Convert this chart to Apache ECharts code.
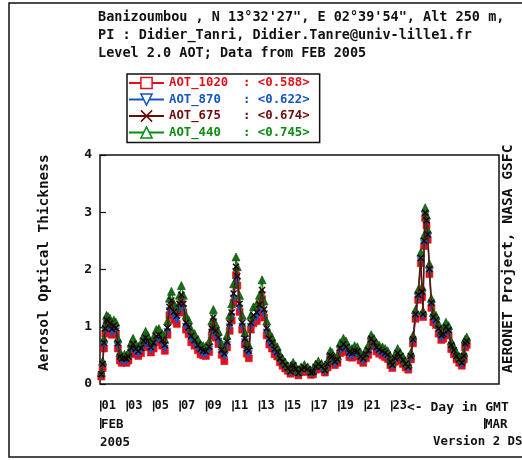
<!DOCTYPE html>
<html><head><meta charset="utf-8">
<script src="https://cdn.jsdelivr.net/npm/echarts@6/dist/echarts.min.js"></script>
<style>html,body{margin:0;padding:0;background:#fff}#c{width:522px;height:460px}</style>
</head><body><div id="c"></div>
<script>
// Day of month (Feb 2005, 1 = Feb 1 00:00 GMT)
var days = [1.10,1.20,1.30,1.40,1.50,1.60,1.75,1.90,2.05,2.20,2.35,2.50,2.65,2.85,3.00,3.15,3.35,3.50,3.70,3.90,
4.10,4.30,4.45,4.60,4.85,5.05,5.25,5.45,5.70,5.90,6.10,6.25,6.40,6.60,6.80,7.00,7.15,7.30,7.50,7.70,7.90,8.15,
8.40,8.60,8.80,9.00,9.25,9.45,9.57,9.75,9.95,10.20,10.40,10.60,10.80,10.95,11.10,11.28,11.38,11.55,11.75,11.95,
12.10,12.25,12.40,12.60,12.85,13.05,13.25,13.40,13.60,13.80,14.00,14.20,14.40,14.60,14.80,15.00,15.20,15.40,
15.60,15.80,16.00,16.20,16.45,16.70,16.95,17.10,17.30,17.50,17.75,18.00,18.20,18.40,18.55,18.75,18.95,19.15,
19.40,19.60,19.85,20.05,20.25,20.45,20.70,20.90,21.10,21.28,21.50,21.70,21.90,22.10,22.35,22.55,22.75,22.95,
23.10,23.30,23.50,23.70,23.90,24.10,24.30,24.50,24.66,24.85,25.05,25.25,25.35,25.42,25.50,25.58,25.68,25.77,
25.90,26.05,26.20,26.40,26.60,26.80,26.95,27.15,27.35,27.55,27.75,27.95,28.15,28.35,28.50,28.60,28.72];

var aot440 = [0.20,0.40,0.80,1.05,1.20,1.18,1.15,1.05,1.12,1.08,0.80,0.55,0.50,0.52,0.50,0.55,0.72,0.80,0.70,0.66,
0.72,0.85,0.92,0.85,0.73,0.82,0.95,0.97,0.88,0.78,1.10,1.50,1.62,1.40,1.33,1.55,1.72,1.55,1.20,1.12,0.95,0.88,
0.78,0.70,0.67,0.66,0.75,1.10,1.30,1.05,0.92,0.70,0.62,0.85,1.20,1.40,1.75,2.22,2.05,1.55,1.20,0.90,
0.72,0.68,1.20,1.35,1.40,1.55,1.82,1.45,1.10,0.90,0.82,0.70,0.65,0.52,0.45,0.38,0.32,0.26,
0.38,0.30,0.22,0.30,0.34,0.30,0.23,0.24,0.35,0.40,0.36,0.28,0.40,0.58,0.55,0.45,0.50,0.72,
0.80,0.75,0.63,0.62,0.67,0.65,0.55,0.50,0.60,0.68,0.86,0.80,0.72,0.68,0.65,0.62,0.58,0.45,
0.38,0.52,0.62,0.55,0.48,0.40,0.35,0.55,0.85,1.30,1.65,2.30,1.70,1.28,2.60,3.08,2.95,2.70,
2.10,1.50,1.25,1.20,1.05,0.92,0.95,1.08,1.02,0.75,0.65,0.55,0.48,0.42,0.55,0.78,0.82];

var aot675 = [0.17,0.35,0.72,0.97,1.12,1.10,1.06,0.96,1.02,0.98,0.71,0.48,0.44,0.45,0.44,0.48,0.63,0.70,0.61,0.57,
0.63,0.75,0.81,0.75,0.64,0.72,0.84,0.86,0.77,0.68,0.98,1.35,1.46,1.26,1.19,1.40,1.56,1.40,1.07,0.99,0.84,0.77,
0.68,0.61,0.58,0.57,0.65,0.97,1.16,0.93,0.81,0.60,0.53,0.74,1.06,1.25,1.58,2.05,1.88,1.40,1.07,0.79,
0.62,0.58,1.07,1.20,1.25,1.39,1.64,1.30,0.97,0.79,0.72,0.61,0.56,0.45,0.39,0.33,0.28,0.22,
0.33,0.26,0.19,0.26,0.29,0.26,0.20,0.21,0.30,0.35,0.31,0.24,0.35,0.50,0.48,0.39,0.43,0.63,
0.70,0.65,0.55,0.54,0.58,0.57,0.48,0.44,0.52,0.59,0.79,0.73,0.64,0.60,0.57,0.54,0.51,0.39,
0.33,0.45,0.54,0.48,0.42,0.35,0.30,0.49,0.78,1.22,1.56,2.20,1.61,1.22,2.50,2.99,2.86,2.61,
2.01,1.42,1.17,1.12,0.97,0.85,0.87,1.00,0.94,0.68,0.59,0.49,0.43,0.37,0.49,0.71,0.75];

var aot870 = [0.15,0.31,0.66,0.92,1.06,1.04,1.00,0.90,0.96,0.92,0.66,0.44,0.40,0.41,0.40,0.44,0.58,0.65,0.56,0.52,
0.58,0.69,0.75,0.69,0.59,0.66,0.78,0.79,0.71,0.62,0.91,1.27,1.37,1.18,1.11,1.31,1.47,1.31,1.00,0.92,0.78,0.71,
0.63,0.56,0.53,0.52,0.60,0.90,1.08,0.86,0.74,0.55,0.48,0.68,0.99,1.17,1.49,1.96,1.79,1.32,1.00,0.73,
0.57,0.52,1.00,1.12,1.16,1.30,1.55,1.22,0.90,0.73,0.66,0.56,0.51,0.41,0.35,0.30,0.25,0.20,
0.30,0.23,0.17,0.23,0.26,0.23,0.18,0.19,0.27,0.31,0.28,0.22,0.31,0.46,0.44,0.35,0.39,0.58,
0.64,0.60,0.50,0.49,0.53,0.52,0.44,0.40,0.48,0.54,0.75,0.69,0.60,0.56,0.53,0.50,0.47,0.36,
0.30,0.41,0.50,0.44,0.38,0.32,0.27,0.45,0.74,1.17,1.51,2.15,1.56,1.19,2.45,2.94,2.81,2.56,
1.96,1.37,1.12,1.07,0.92,0.80,0.83,0.95,0.89,0.64,0.55,0.46,0.40,0.34,0.46,0.67,0.71];

var aot1020 = [0.13,0.28,0.62,0.88,1.02,1.00,0.96,0.86,0.92,0.88,0.62,0.41,0.37,0.38,0.37,0.41,0.54,0.61,0.52,0.49,
0.54,0.65,0.71,0.65,0.55,0.62,0.73,0.75,0.67,0.58,0.86,1.20,1.30,1.12,1.05,1.25,1.40,1.25,0.95,0.87,0.73,0.67,
0.59,0.52,0.50,0.49,0.56,0.85,1.02,0.81,0.70,0.51,0.40,0.64,0.93,1.11,1.42,1.90,1.72,1.26,0.95,0.69,
0.53,0.45,0.95,1.06,1.10,1.24,1.48,1.16,0.85,0.69,0.62,0.52,0.48,0.38,0.32,0.27,0.23,0.18,
0.28,0.21,0.15,0.21,0.24,0.21,0.16,0.17,0.25,0.29,0.26,0.20,0.29,0.43,0.41,0.33,0.37,0.54,
0.60,0.56,0.47,0.46,0.50,0.48,0.41,0.37,0.45,0.51,0.72,0.66,0.57,0.53,0.50,0.47,0.44,0.33,
0.28,0.39,0.47,0.41,0.35,0.29,0.25,0.43,0.71,1.14,1.47,2.11,1.52,1.17,2.41,2.90,2.77,2.52,
1.92,1.33,1.08,1.03,0.88,0.77,0.79,0.91,0.85,0.61,0.52,0.43,0.37,0.32,0.43,0.64,0.68];

var seriesNames = ['AOT_1020','AOT_870','AOT_675','AOT_440'];
var seriesAvg = ['0.588','0.622','0.674','0.745'];
var yTicks = [0,1,2,3,4];
var xTickDays = [1,3,5,7,9,11,13,15,17,19,21,23];
var titleLines = ['Banizoumbou , N 13\u00b032\'27", E 02\u00b039\'54", Alt 250 m,',
  'PI : Didier_Tanri, Didier.Tanre@univ-lille1.fr',
  'Level 2.0 AOT; Data from FEB 2005'];

var FONT = '"DejaVu Sans Mono", "Liberation Mono", monospace';
var colors = ['#e3101c', '#1454c4', '#6a0c0c', '#0c8a12'];
var markColors = ['#e3101c', '#1454c4', '#1a0404', '#176e17'];
var symbols = ['rect', 'path://M0,0L10,0L5,10Z', 'path://M0,0L10,10M10,0L0,10', 'triangle'];
var values = [aot1020, aot870, aot675, aot440];

function pad2(v){ v = Math.round(v); return (v < 10 ? '0' : '') + v; }

var series = seriesNames.map(function(name, k){
  return {
    name: name, type: 'line',
    z: k === 2 ? 4 : 2 + k * 0.1,
    data: days.map(function(d, i){ return [d, values[k][i]]; }),
    symbol: symbols[k], symbolSize: [7, 7, 6, 8][k],
    showSymbol: true,
    lineStyle: { color: colors[k], width: 1.2 },
    itemStyle: k === 2 ? { color: markColors[k], borderColor: markColors[k], borderWidth: 1.4 }
                       : { color: markColors[k], borderColor: k === 3 ? '#0b420b' : markColors[k], borderWidth: 0.6 },
    emphasis: { disabled: true },
    animation: false
  };
});

var chart = echarts.init(document.getElementById('c'), null, { renderer: 'canvas' });
chart.setOption({
  animation: false,
  backgroundColor: '#fff',
  title: {
    text: titleLines.join('\n'),
    left: 93, top: 3,
    textStyle: { fontFamily: FONT, fontWeight: 'bold', fontSize: 13.5, lineHeight: 18, color: '#111' }
  },
  legend: {
    orient: 'vertical', left: 127, top: 74,
    padding: [2, 10, 3, 1],
    borderColor: '#111', borderWidth: 1.5,
    itemWidth: 35, itemHeight: 14, itemGap: 2.5,
    data: seriesNames.map(function(n, k){
      return { name: n, textStyle: { color: colors[k] },
        itemStyle: k === 2 ? { color: colors[k], borderColor: colors[k], borderWidth: 1.5 }
                           : { color: '#fff', borderColor: colors[k], borderWidth: 1.5 } };
    }),
    formatter: function(name){
      var k = seriesNames.indexOf(name);
      var s = name; while (s.length < 10) s += ' ';
      return s + ': <' + seriesAvg[k] + '>';
    },
    textStyle: { fontFamily: FONT, fontWeight: 'bold', fontSize: 12.3, lineHeight: 14 }
  },
  grid: { left: 100, right: 23, top: 155, bottom: 76, show: true, borderColor: '#111', borderWidth: 1.5, backgroundColor: 'transparent' },
  xAxis: {
    type: 'value', min: 1, max: 31.16,
    axisLine: { show: false }, splitLine: { show: false }, axisTick: { show: false },
    axisLabel: {
      customValues: xTickDays,
      align: 'left', margin: 16,
      formatter: function(v){ return '{b|}{v|' + pad2(v) + '}'; },
      rich: {
        b: { width: 1.5, height: 11, backgroundColor: '#111' },
        v: { fontFamily: FONT, fontWeight: 'bold', fontSize: 12, color: '#111' }
      }
    }
  },
  yAxis: {
    type: 'value', min: 0, max: 4, interval: 1,
    axisLine: { show: false }, splitLine: { show: false },
    axisTick: { show: true, inside: true, length: 6, lineStyle: { color: '#111', width: 1.2 } },
    axisLabel: { margin: 8, fontFamily: FONT, fontWeight: 'bold', fontSize: 13, color: '#111',
      formatter: function(v){ return yTicks.indexOf(v) >= 0 ? String(v) : ''; } }
  },
  graphic: [
    { type: 'rect', shape: { x: 9, y: 3, width: 540, height: 454 }, style: { fill: 'none', stroke: '#111', lineWidth: 1.5 }, silent: true, z: 100 },
    { type: 'text', x: 37, y: 371, rotation: Math.PI / 2,
      style: { text: 'Aerosol Optical Thickness', font: 'bold 14.4px ' + FONT, fill: '#111' } },
    { type: 'text', x: 407, y: 401, style: { text: '<- Day in GMT', font: 'bold 13px ' + FONT, fill: '#111' } },
    { type: 'rect', shape: { x: 100, y: 418, width: 1.5, height: 11 }, style: { fill: '#111' } },
    { type: 'text', x: 101, y: 418, style: { text: 'FEB', font: 'bold 12.5px ' + FONT, fill: '#111' } },
    { type: 'text', x: 100, y: 436, style: { text: '2005', font: 'bold 12.5px ' + FONT, fill: '#111' } },
    { type: 'rect', shape: { x: 484, y: 418, width: 1.5, height: 11 }, style: { fill: '#111' } },
    { type: 'text', x: 485, y: 418, style: { text: 'MAR', font: 'bold 12.5px ' + FONT, fill: '#111' } },
    { type: 'text', x: 433, y: 436, style: { text: 'Version 2 DS', font: 'bold 12.4px ' + FONT, fill: '#111' } },
    { type: 'text', x: 501, y: 373, rotation: Math.PI / 2,
      style: { text: 'AERONET Project, NASA GSFC', font: 'bold 14.6px ' + FONT, fill: '#111' } }
  ],
  series: series
});
</script></body></html>
